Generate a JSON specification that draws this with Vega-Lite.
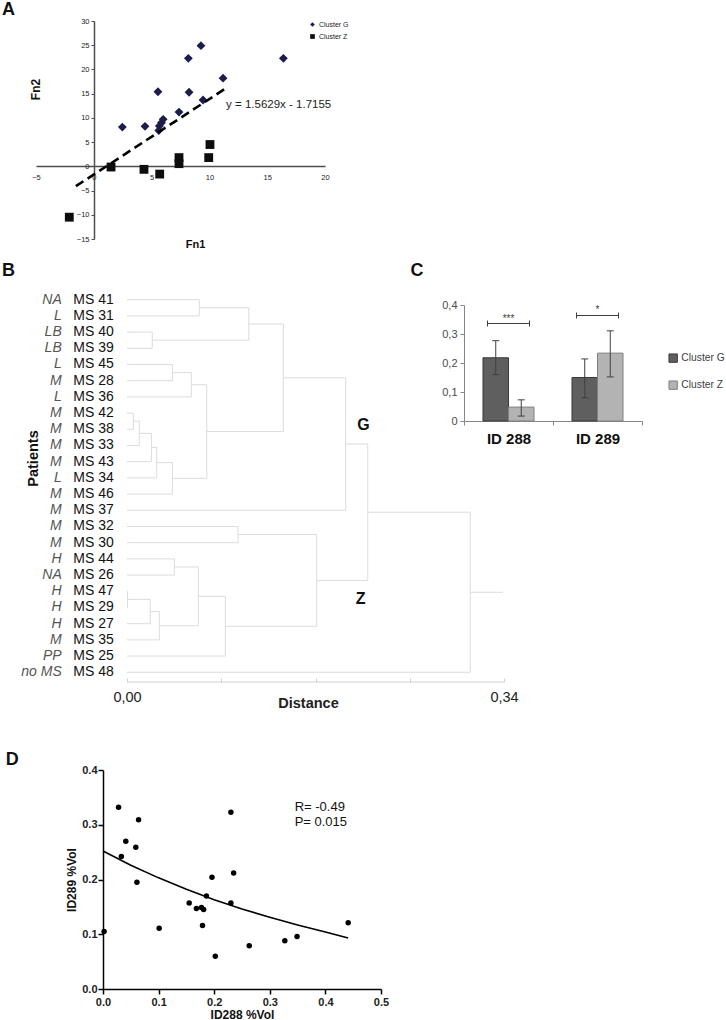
{
  "$schema": "https://vega.github.io/schema/vega-lite/v6.json",
  "padding": {"left": 2, "top": 1, "right": 0, "bottom": 2},
  "config": {"view": {"stroke": null}, "font": "Liberation Sans", "axis": {"grid": false, "labelOverlap": false}},
  "resolve": {"scale": {"color": "independent", "shape": "independent", "stroke": "independent"}, "legend": {"color": "independent", "shape": "independent"}},
  "datasets": {
    "pcaA": [
      {"fn1": 2.47, "fn2": 8.1, "cluster": "Cluster G"},
      {"fn1": 4.43, "fn2": 8.26, "cluster": "Cluster G"},
      {"fn1": 5.55, "fn2": 15.4, "cluster": "Cluster G"},
      {"fn1": 5.67, "fn2": 8.3, "cluster": "Cluster G"},
      {"fn1": 5.62, "fn2": 7.4, "cluster": "Cluster G"},
      {"fn1": 5.85, "fn2": 9.0, "cluster": "Cluster G"},
      {"fn1": 6.0, "fn2": 9.7, "cluster": "Cluster G"},
      {"fn1": 7.37, "fn2": 11.2, "cluster": "Cluster G"},
      {"fn1": 8.18, "fn2": 22.3, "cluster": "Cluster G"},
      {"fn1": 8.24, "fn2": 15.3, "cluster": "Cluster G"},
      {"fn1": 9.27, "fn2": 24.9, "cluster": "Cluster G"},
      {"fn1": 9.45, "fn2": 13.7, "cluster": "Cluster G"},
      {"fn1": 11.18, "fn2": 18.2, "cluster": "Cluster G"},
      {"fn1": 16.4, "fn2": 22.3, "cluster": "Cluster G"},
      {"fn1": 1.49, "fn2": -0.14, "cluster": "Cluster Z"},
      {"fn1": 4.34, "fn2": -0.62, "cluster": "Cluster Z"},
      {"fn1": 5.7, "fn2": -1.6, "cluster": "Cluster Z"},
      {"fn1": 7.37, "fn2": 1.8, "cluster": "Cluster Z"},
      {"fn1": 7.37, "fn2": 0.55, "cluster": "Cluster Z"},
      {"fn1": 9.94, "fn2": 1.8, "cluster": "Cluster Z"},
      {"fn1": 10.05, "fn2": 4.5, "cluster": "Cluster Z"},
      {"fn1": -2.12, "fn2": -10.5, "cluster": "Cluster Z"}
    ],
    "fitA": [
      {"fn1": -1.55, "fn2": -4.1},
      {"fn1": 11.35, "fn2": 16.0}
    ],
    "dendro": [
      {"x": 0, "x2": 0.0652, "y": 0, "y2": 0},
      {"x": 0, "x2": 0.0652, "y": 1, "y2": 1},
      {"x": 0, "x2": 0.0228, "y": 2, "y2": 2},
      {"x": 0, "x2": 0.0228, "y": 3, "y2": 3},
      {"x": 0, "x2": 0.0409, "y": 4, "y2": 4},
      {"x": 0, "x2": 0.0409, "y": 5, "y2": 5},
      {"x": 0, "x2": 0.058, "y": 6, "y2": 6},
      {"x": 0, "x2": 0.0057, "y": 7, "y2": 7},
      {"x": 0, "x2": 0.0057, "y": 8, "y2": 8},
      {"x": 0, "x2": 0.0111, "y": 9, "y2": 9},
      {"x": 0, "x2": 0.022, "y": 10, "y2": 10},
      {"x": 0, "x2": 0.0268, "y": 11, "y2": 11},
      {"x": 0, "x2": 0.0409, "y": 12, "y2": 12},
      {"x": 0, "x2": 0.1972, "y": 13, "y2": 13},
      {"x": 0, "x2": 0.1001, "y": 14, "y2": 14},
      {"x": 0, "x2": 0.1001, "y": 15, "y2": 15},
      {"x": 0, "x2": 0.0427, "y": 16, "y2": 16},
      {"x": 0, "x2": 0.0427, "y": 17, "y2": 17},
      {"x": 0, "x2": 0.0005, "y": 18, "y2": 18},
      {"x": 0, "x2": 0.0005, "y": 19, "y2": 19},
      {"x": 0, "x2": 0.021, "y": 20, "y2": 20},
      {"x": 0, "x2": 0.0291, "y": 21, "y2": 21},
      {"x": 0, "x2": 0.0887, "y": 22, "y2": 22},
      {"x": 0, "x2": 0.3096, "y": 23, "y2": 23},
      {"x": 0.0652, "x2": 0.1098, "y": 0.5, "y2": 0.5},
      {"x": 0.0228, "x2": 0.1098, "y": 2.5, "y2": 2.5},
      {"x": 0.0409, "x2": 0.058, "y": 4.5, "y2": 4.5},
      {"x": 0.0057, "x2": 0.0111, "y": 7.5, "y2": 7.5},
      {"x": 0.0111, "x2": 0.022, "y": 8.25, "y2": 8.25},
      {"x": 0.022, "x2": 0.0268, "y": 9.125, "y2": 9.125},
      {"x": 0.0268, "x2": 0.0409, "y": 10.06, "y2": 10.06},
      {"x": 0.058, "x2": 0.0719, "y": 5.25, "y2": 5.25},
      {"x": 0.0409, "x2": 0.0719, "y": 11.03, "y2": 11.03},
      {"x": 0.1098, "x2": 0.141, "y": 1.5, "y2": 1.5},
      {"x": 0.0719, "x2": 0.141, "y": 8.14, "y2": 8.14},
      {"x": 0.141, "x2": 0.1972, "y": 4.82, "y2": 4.82},
      {"x": 0.0427, "x2": 0.0643, "y": 16.5, "y2": 16.5},
      {"x": 0.0005, "x2": 0.021, "y": 18.5, "y2": 18.5},
      {"x": 0.021, "x2": 0.0291, "y": 19.25, "y2": 19.25},
      {"x": 0.0291, "x2": 0.0643, "y": 20.125, "y2": 20.125},
      {"x": 0.0643, "x2": 0.0887, "y": 18.31, "y2": 18.31},
      {"x": 0.1001, "x2": 0.1711, "y": 14.5, "y2": 14.5},
      {"x": 0.0887, "x2": 0.1711, "y": 20.16, "y2": 20.16},
      {"x": 0.1972, "x2": 0.2171, "y": 8.91, "y2": 8.91},
      {"x": 0.1711, "x2": 0.2171, "y": 17.33, "y2": 17.33},
      {"x": 0.2171, "x2": 0.3096, "y": 13.12, "y2": 13.12},
      {"x": 0.3096, "x2": 0.339, "y": 18.06, "y2": 18.06},
      {"x": 0.0652, "x2": 0.0652, "y": 0, "y2": 1},
      {"x": 0.0228, "x2": 0.0228, "y": 2, "y2": 3},
      {"x": 0.1098, "x2": 0.1098, "y": 0.5, "y2": 2.5},
      {"x": 0.0409, "x2": 0.0409, "y": 4, "y2": 5},
      {"x": 0.058, "x2": 0.058, "y": 4.5, "y2": 6},
      {"x": 0.0057, "x2": 0.0057, "y": 7, "y2": 8},
      {"x": 0.0111, "x2": 0.0111, "y": 7.5, "y2": 9},
      {"x": 0.022, "x2": 0.022, "y": 8.25, "y2": 10},
      {"x": 0.0268, "x2": 0.0268, "y": 9.125, "y2": 11},
      {"x": 0.0409, "x2": 0.0409, "y": 10.06, "y2": 12},
      {"x": 0.0719, "x2": 0.0719, "y": 5.25, "y2": 11.03},
      {"x": 0.141, "x2": 0.141, "y": 1.5, "y2": 8.14},
      {"x": 0.1972, "x2": 0.1972, "y": 4.82, "y2": 13},
      {"x": 0.1001, "x2": 0.1001, "y": 14, "y2": 15},
      {"x": 0.0427, "x2": 0.0427, "y": 16, "y2": 17},
      {"x": 0.0005, "x2": 0.0005, "y": 18, "y2": 19},
      {"x": 0.021, "x2": 0.021, "y": 18.5, "y2": 20},
      {"x": 0.0291, "x2": 0.0291, "y": 19.25, "y2": 21},
      {"x": 0.0643, "x2": 0.0643, "y": 16.5, "y2": 20.125},
      {"x": 0.0887, "x2": 0.0887, "y": 18.31, "y2": 22},
      {"x": 0.1711, "x2": 0.1711, "y": 14.5, "y2": 20.16},
      {"x": 0.2171, "x2": 0.2171, "y": 8.91, "y2": 17.33},
      {"x": 0.3096, "x2": 0.3096, "y": 13.12, "y2": 23}
    ],
    "leaves": [
      {"row": 0, "grp": "NA", "ms": "MS 41"},
      {"row": 1, "grp": "L", "ms": "MS 31"},
      {"row": 2, "grp": "LB", "ms": "MS 40"},
      {"row": 3, "grp": "LB", "ms": "MS 39"},
      {"row": 4, "grp": "L", "ms": "MS 45"},
      {"row": 5, "grp": "M", "ms": "MS 28"},
      {"row": 6, "grp": "L", "ms": "MS 36"},
      {"row": 7, "grp": "M", "ms": "MS 42"},
      {"row": 8, "grp": "M", "ms": "MS 38"},
      {"row": 9, "grp": "M", "ms": "MS 33"},
      {"row": 10, "grp": "M", "ms": "MS 43"},
      {"row": 11, "grp": "L", "ms": "MS 34"},
      {"row": 12, "grp": "M", "ms": "MS 46"},
      {"row": 13, "grp": "M", "ms": "MS 37"},
      {"row": 14, "grp": "M", "ms": "MS 32"},
      {"row": 15, "grp": "M", "ms": "MS 30"},
      {"row": 16, "grp": "H", "ms": "MS 44"},
      {"row": 17, "grp": "NA", "ms": "MS 26"},
      {"row": 18, "grp": "H", "ms": "MS 47"},
      {"row": 19, "grp": "H", "ms": "MS 29"},
      {"row": 20, "grp": "H", "ms": "MS 27"},
      {"row": 21, "grp": "M", "ms": "MS 35"},
      {"row": 22, "grp": "PP", "ms": "MS 25"},
      {"row": 23, "grp": "no MS", "ms": "MS 48"}
    ],
    "barsC": [
      {"id": "ID 288", "cluster": "Cluster G", "mean": 0.218, "lo": 0.16, "hi": 0.277},
      {"id": "ID 288", "cluster": "Cluster Z", "mean": 0.048, "lo": 0.017, "hi": 0.073},
      {"id": "ID 289", "cluster": "Cluster G", "mean": 0.15, "lo": 0.08, "hi": 0.214},
      {"id": "ID 289", "cluster": "Cluster Z", "mean": 0.234, "lo": 0.152, "hi": 0.311}
    ],
    "sigC": [
      {"id": "ID 288", "y": 0.336, "star": "***"},
      {"id": "ID 289", "y": 0.364, "star": "*"}
    ],
    "scatD": [
      {"id288": 0.002, "id289": 0.105},
      {"id288": 0.028, "id289": 0.332},
      {"id288": 0.033, "id289": 0.242},
      {"id288": 0.041, "id289": 0.27},
      {"id288": 0.059, "id289": 0.259},
      {"id288": 0.061, "id289": 0.195},
      {"id288": 0.064, "id289": 0.309},
      {"id288": 0.101, "id289": 0.111},
      {"id288": 0.155, "id289": 0.157},
      {"id288": 0.168, "id289": 0.147},
      {"id288": 0.177, "id289": 0.149},
      {"id288": 0.181, "id289": 0.145},
      {"id288": 0.179, "id289": 0.116},
      {"id288": 0.186, "id289": 0.17},
      {"id288": 0.196, "id289": 0.204},
      {"id288": 0.202, "id289": 0.06},
      {"id288": 0.23, "id289": 0.323},
      {"id288": 0.23, "id289": 0.157},
      {"id288": 0.235, "id289": 0.212},
      {"id288": 0.263, "id289": 0.079},
      {"id288": 0.327, "id289": 0.088},
      {"id288": 0.349, "id289": 0.096},
      {"id288": 0.441, "id289": 0.121}
    ],
    "curveD": [
      {"id288": 0.0, "id289": 0.252},
      {"id288": 0.05, "id289": 0.226},
      {"id288": 0.1, "id289": 0.203},
      {"id288": 0.15, "id289": 0.182},
      {"id288": 0.2, "id289": 0.163},
      {"id288": 0.25, "id289": 0.146},
      {"id288": 0.3, "id289": 0.131},
      {"id288": 0.35, "id289": 0.117},
      {"id288": 0.4, "id289": 0.104},
      {"id288": 0.441, "id289": 0.093}
    ]
  },
  "spacing": 12,
  "vconcat": [
    {
      "width": 289,
      "height": 218,
      "layer": [
        {
          "data": {"name": "pcaA"},
          "mark": {"type": "point", "filled": true, "opacity": 1, "size": 78},
          "encoding": {
            "x": {"field": "fn1", "type": "quantitative", "scale": {"domain": [-5, 20], "nice": false, "zero": false},
              "axis": {"values": [-5, 0, 5, 10, 15, 20], "tickCount": 20, "offset": -73, "ticks": false, "domainColor": "#4d4d4d", "domainWidth": 1.5, "labelFontSize": 7.5, "labelColor": "#222222", "labelPadding": 7, "labelFlush": false, "labelOverlap": false, "title": "Fn1", "titleFontSize": 11, "titleFontWeight": "bold", "titleColor": "#111111", "titleX": 159, "titleY": 78, "titleBaseline": "middle", "titleAlign": "center"}},
            "y": {"field": "fn2", "type": "quantitative", "scale": {"domain": [-15, 30], "nice": false, "zero": false},
              "axis": {"values": [-15, -10, -5, 0, 5, 10, 15, 20, 25, 30], "tickCount": 20, "offset": -58, "tickSize": 3, "tickColor": "#4d4d4d", "domainColor": "#4d4d4d", "domainWidth": 1.5, "labelFontSize": 7.5, "labelColor": "#222222", "labelPadding": 2, "labelFlush": false, "labelOverlap": false, "title": "Fn2", "titleFontSize": 12, "titleFontWeight": "bold", "titleColor": "#111111", "titleX": -59, "titleY": 68, "titleBaseline": "middle", "titleAlign": "center", "titleAngle": -90}},
            "shape": {"field": "cluster", "type": "nominal", "scale": {"domain": ["Cluster G", "Cluster Z"], "range": ["diamond", "square"]},
              "legend": {"orient": "none", "legendX": 273, "legendY": 0, "title": null, "labelFontSize": 7, "labelColor": "#222222", "symbolSize": 22, "rowPadding": 4, "labelOffset": 3}},
            "color": {"field": "cluster", "type": "nominal", "scale": {"domain": ["Cluster G", "Cluster Z"], "range": ["#1c1c4f", "#0d0d0d"]},
              "legend": {"orient": "none", "legendX": 273, "legendY": 0, "title": null, "labelFontSize": 7, "labelColor": "#222222", "symbolSize": 22, "rowPadding": 4, "labelOffset": 3}}
          }
        },
        {
          "data": {"name": "fitA"},
          "mark": {"type": "line", "color": "#000000", "strokeWidth": 2.6, "strokeDash": [9, 5]},
          "encoding": {
            "x": {"field": "fn1", "type": "quantitative"},
            "y": {"field": "fn2", "type": "quantitative"}
          }
        },
        {
          "data": {"values": [{}]},
          "mark": {"type": "text", "text": "y = 1.5629x - 1.7155", "align": "left", "baseline": "middle", "fontSize": 11.5, "color": "#222222"},
          "encoding": {"x": {"datum": 11.44}, "y": {"datum": 12.6}}
        },
        {
          "data": {"values": [{}]},
          "mark": {"type": "text", "text": "A", "align": "left", "baseline": "top", "fontSize": 18, "fontWeight": "bold", "color": "#111111"},
          "encoding": {"x": {"datum": -7.941}, "y": {"datum": 34.12}}
        }
      ]
    },
    {
      "spacing": 40,
      "resolve": {"scale": {"color": "independent", "stroke": "independent"}, "legend": {"color": "independent"}},
      "vconcat": [
        {
          "spacing": -78,
          "align": "none",
          "resolve": {"scale": {"color": "independent", "stroke": "independent"}, "legend": {"color": "independent"}},
          "hconcat": [
            {
              "width": 468,
              "height": 377,
              "layer": [
                {
                  "data": {"name": "dendro"},
                  "mark": {"type": "rule", "color": "#dcdcdc", "strokeWidth": 1},
                  "encoding": {
                    "x": {"field": "x", "type": "quantitative", "scale": {"domain": [-0.0821, 0.34], "nice": false, "zero": false},
                      "axis": {"values": [0, 0.085, 0.17, 0.255, 0.34], "tickCount": 20, "domain": false, "tickSize": -4, "tickColor": "#d0d0d0", "labelExpr": "datum.value == 0 ? '0,00' : (datum.value > 0.3 ? '0,34' : '')", "labelFontSize": 14.5, "labelColor": "#222222", "labelPadding": 12, "labelFlush": false, "labelOverlap": false, "title": "Distance", "titleFontSize": 14.5, "titleFontWeight": "bold", "titleColor": "#222222", "titleX": 272, "titleY": 21, "titleBaseline": "middle", "titleAlign": "center"}},
                    "x2": {"field": "x2"},
                    "y": {"field": "y", "type": "quantitative", "scale": {"domain": [0.327, 23.6], "reverse": true, "nice": false, "zero": false},
                      "axis": {"title": "Patients", "domain": false, "ticks": false, "labels": false, "titleFontSize": 14.5, "titleFontWeight": "bold", "titleColor": "#111111", "titleX": -3, "titleY": 153, "titleBaseline": "middle", "titleAlign": "center", "titleAngle": -90}},
                    "y2": {"field": "y2"}
                  }
                },
                {
                  "data": {"values": [{}]},
                  "mark": {"type": "rule", "color": "#d0d0d0", "strokeWidth": 1},
                  "encoding": {"x": {"datum": 0}, "x2": {"datum": 0.34}, "y": {"datum": 23.6}}
                },
                {
                  "data": {"name": "leaves"},
                  "mark": {"type": "text", "align": "left", "baseline": "middle", "fontSize": 14, "color": "#111111"},
                  "encoding": {"x": {"datum": -0.0484}, "y": {"field": "row", "type": "quantitative"}, "text": {"field": "ms"}}
                },
                {
                  "data": {"name": "leaves"},
                  "mark": {"type": "text", "align": "right", "baseline": "middle", "fontSize": 14, "fontStyle": "italic", "color": "#555555"},
                  "encoding": {"x": {"datum": -0.0589}, "y": {"field": "row", "type": "quantitative"}, "text": {"field": "grp"}}
                },
                {
                  "data": {"values": [{}]},
                  "mark": {"type": "text", "text": "G", "align": "center", "baseline": "middle", "fontSize": 16, "fontWeight": "bold", "color": "#111111"},
                  "encoding": {"x": {"datum": 0.2133}, "y": {"datum": 7.72}}
                },
                {
                  "data": {"values": [{}]},
                  "mark": {"type": "text", "text": "Z", "align": "center", "baseline": "middle", "fontSize": 16, "fontWeight": "bold", "color": "#111111"},
                  "encoding": {"x": {"datum": 0.2107}, "y": {"datum": 18.48}}
                },
                {
                  "data": {"values": [{}]},
                  "mark": {"type": "text", "text": "B", "align": "left", "baseline": "middle", "fontSize": 18, "fontWeight": "bold", "color": "#111111"},
                  "encoding": {"x": {"datum": -0.11275}, "y": {"datum": -1.772}}
                },
                {
                  "data": {"values": [{}]},
                  "mark": {"type": "text", "text": "C", "align": "center", "baseline": "middle", "fontSize": 18, "fontWeight": "bold", "color": "#111111"},
                  "encoding": {"x": {"datum": 0.2616}, "y": {"datum": -1.772}}
                }
              ]
            },
            {
              "width": 178,
              "height": 116,
              "layer": [
                {
                  "data": {"name": "barsC"},
                  "mark": {"type": "bar", "strokeWidth": 1},
                  "encoding": {
                    "x": {"field": "id", "type": "nominal", "scale": {"paddingInner": 0, "paddingOuter": 0},
                      "axis": {"title": null, "labelAngle": 0, "tickBand": "extent", "tickSize": 4, "tickColor": "#868686", "domainColor": "#868686", "labelFontSize": 15, "labelFontWeight": "bold", "labelColor": "#111111", "labelPadding": 6}},
                    "xOffset": {"field": "cluster", "type": "nominal", "scale": {"paddingInner": 0, "paddingOuter": 0.745}},
                    "y": {"field": "mean", "type": "quantitative", "scale": {"domain": [0, 0.4], "nice": false},
                      "axis": {"title": null, "values": [0, 0.1, 0.2, 0.3, 0.4], "tickCount": 20, "labelExpr": "replace(format(datum.value, '.1~f'), '.', ',')", "tickSize": 4, "tickColor": "#868686", "domainColor": "#868686", "labelFontSize": 11, "labelColor": "#4a4a4a", "labelPadding": 3, "labelOverlap": false}},
                    "color": {"field": "cluster", "type": "nominal", "scale": {"domain": ["Cluster G", "Cluster Z"], "range": ["#5f5f5f", "#b3b3b3"]},
                      "legend": {"orient": "none", "legendX": 204, "legendY": 48, "title": null, "symbolType": "square", "symbolSize": 70, "symbolStrokeColor": "#505050", "symbolStrokeWidth": 1, "labelFontSize": 10.3, "labelColor": "#404040", "rowPadding": 13, "labelOffset": 3}},
                    "stroke": {"field": "cluster", "type": "nominal", "scale": {"domain": ["Cluster G", "Cluster Z"], "range": ["#3a3a3a", "#7f7f7f"]}, "legend": null}
                  }
                },
                {
                  "data": {"name": "barsC"},
                  "mark": {"type": "rule", "color": "#404040", "strokeWidth": 1},
                  "encoding": {
                    "x": {"field": "id", "type": "nominal"},
                    "xOffset": {"field": "cluster", "type": "nominal"},
                    "y": {"field": "lo", "type": "quantitative"},
                    "y2": {"field": "hi"}
                  }
                },
                {
                  "data": {"name": "barsC"},
                  "mark": {"type": "tick", "orient": "horizontal", "size": 7, "thickness": 1, "color": "#404040", "opacity": 1},
                  "encoding": {
                    "x": {"field": "id", "type": "nominal"},
                    "xOffset": {"field": "cluster", "type": "nominal"},
                    "y": {"field": "lo", "type": "quantitative"}
                  }
                },
                {
                  "data": {"name": "barsC"},
                  "mark": {"type": "tick", "orient": "horizontal", "size": 7, "thickness": 1, "color": "#404040", "opacity": 1},
                  "encoding": {
                    "x": {"field": "id", "type": "nominal"},
                    "xOffset": {"field": "cluster", "type": "nominal"},
                    "y": {"field": "hi", "type": "quantitative"}
                  }
                },
                {
                  "data": {"name": "sigC"},
                  "mark": {"type": "tick", "orient": "horizontal", "size": 42, "thickness": 1, "color": "#404040", "opacity": 1},
                  "encoding": {
                    "x": {"field": "id", "type": "nominal"},
                    "y": {"field": "y", "type": "quantitative"}
                  }
                },
                {
                  "data": {"name": "sigC"},
                  "mark": {"type": "tick", "orient": "vertical", "size": 6, "thickness": 1, "color": "#404040", "opacity": 1, "xOffset": -21},
                  "encoding": {
                    "x": {"field": "id", "type": "nominal"},
                    "y": {"field": "y", "type": "quantitative"}
                  }
                },
                {
                  "data": {"name": "sigC"},
                  "mark": {"type": "tick", "orient": "vertical", "size": 6, "thickness": 1, "color": "#404040", "opacity": 1, "xOffset": 21},
                  "encoding": {
                    "x": {"field": "id", "type": "nominal"},
                    "y": {"field": "y", "type": "quantitative"}
                  }
                },
                {
                  "data": {"name": "sigC"},
                  "mark": {"type": "text", "align": "center", "baseline": "middle", "fontSize": 10, "color": "#404040", "dy": -5},
                  "encoding": {
                    "x": {"field": "id", "type": "nominal"},
                    "y": {"field": "y", "type": "quantitative"},
                    "text": {"field": "star"}
                  }
                }
              ]
            }
          ]
        },
        {
          "spacing": -77,
          "hconcat": [
            {
              "width": 46,
              "height": 1,
              "data": {"values": [{}]},
              "mark": {"type": "point", "opacity": 0, "size": 1},
              "encoding": {}
            },
            {
              "width": 278,
              "height": 219,
              "layer": [
                {
                  "data": {"name": "scatD"},
                  "mark": {"type": "circle", "size": 30, "color": "#000000", "opacity": 1},
                  "encoding": {
                    "x": {"field": "id288", "type": "quantitative", "scale": {"domain": [0, 0.5], "nice": false},
                      "axis": {"values": [0, 0.1, 0.2, 0.3, 0.4, 0.5], "tickCount": 20, "format": ".1f", "title": "ID288 %Vol", "domainColor": "#000000", "domainWidth": 1.5, "tickColor": "#000000", "tickWidth": 1.5, "tickSize": 5, "labelFontSize": 11, "labelFontWeight": "bold", "labelColor": "#222222", "labelPadding": 2, "labelFlush": false, "titleFontSize": 12, "titleFontWeight": "bold", "titleColor": "#111111", "titlePadding": 2}},
                    "y": {"field": "id289", "type": "quantitative", "scale": {"domain": [0, 0.4], "nice": false},
                      "axis": {"values": [0, 0.1, 0.2, 0.3, 0.4], "tickCount": 20, "format": ".1f", "title": "ID289 %Vol", "domainColor": "#000000", "domainWidth": 1.5, "tickColor": "#000000", "tickWidth": 1.5, "tickSize": 5, "labelFontSize": 11, "labelFontWeight": "bold", "labelColor": "#222222", "labelPadding": 1, "labelFlush": false, "titleFontSize": 12, "titleFontWeight": "bold", "titleColor": "#111111", "titlePadding": 3}}
                  }
                },
                {
                  "data": {"name": "curveD"},
                  "mark": {"type": "line", "color": "#000000", "strokeWidth": 1.6},
                  "encoding": {
                    "x": {"field": "id288", "type": "quantitative"},
                    "y": {"field": "id289", "type": "quantitative"}
                  }
                },
                {
                  "data": {"values": [{}]},
                  "mark": {"type": "text", "text": "R= -0.49", "align": "left", "baseline": "middle", "fontSize": 13, "color": "#111111"},
                  "encoding": {"x": {"datum": 0.3447}, "y": {"datum": 0.333}}
                },
                {
                  "data": {"values": [{}]},
                  "mark": {"type": "text", "text": "P= 0.015", "align": "left", "baseline": "middle", "fontSize": 13, "color": "#111111"},
                  "encoding": {"x": {"datum": 0.3447}, "y": {"datum": 0.3045}}
                },
                {
                  "data": {"values": [{}]},
                  "mark": {"type": "text", "text": "D", "align": "left", "baseline": "middle", "fontSize": 18, "fontWeight": "bold", "color": "#111111"},
                  "encoding": {"x": {"datum": -0.1748}, "y": {"datum": 0.4183}}
                }
              ]
            }
          ]
        }
      ]
    }
  ]
}
